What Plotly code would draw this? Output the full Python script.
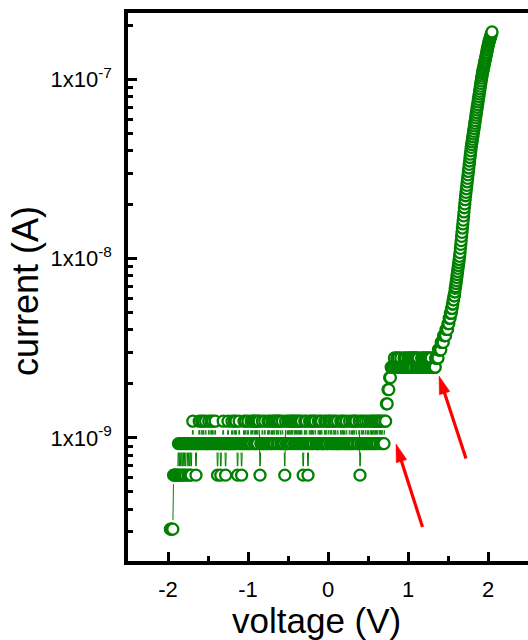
import numpy as np
import plotly.graph_objects as go

# ---------------------------------------------------------------------------
# I-V sweep data
# ---------------------------------------------------------------------------
# Low-bias part of the sweep: current sits on discrete levels that are
# multiples of the instrument resolution (0.31 nA). One digit per 10 mV step.
QUANTUM_NA = 0.31
FLAT_V_START = -1.97
FLAT_V_STEP = 0.01
FLAT_LEVELS = (
    "1111"                                   # -1.97 .. -1.94
    "2222223"                                # -1.93 .. -1.87
    "232323232332323"                        # -1.86 .. -1.72
    "2343332333" "4334343343" "3343343433"   # -1.71 .. -1.42
    "4332333233" "4332334333" "3"            # -1.41 .. -1.21
    "4334343234" "3323343433" "4333434434"   # -1.20 .. -0.91
    "3434423343" "3433343433" "4343443434"   # -0.90 .. -0.61
    "4334332433" "4343434434" "3434343432"   # -0.60 .. -0.31
    "3434323434" "3434433343" "4343334343"   # -0.30 .. -0.01
    "3443433434" "3343334343" "4334333433"   #  0.00 ..  0.29
    "4343443334" "2343433433" "4334343434"   #  0.30 ..  0.59
    "3434434343"                             #  0.60 ..  0.69
    "344556677"                              #  0.70 ..  0.78
    "8888988989" "8898889898" "8989898989"   #  0.79 ..  1.08
    "9898988898" "9898989898" "98888"        #  1.09 ..  1.33
)

# Turn-on part of the sweep, 5 mV steps, current in nA.
RISE_V_START = 1.335
RISE_V_STEP = 0.005
RISE_CURRENT_NA = [
    2.48, 2.48, 2.79, 2.79, 2.79, 2.79, 2.79, 2.79, 2.79, 3.10,
    3.10, 3.10, 3.10, 3.10, 3.10, 3.10, 3.41, 3.41, 3.41, 3.41,
    3.41, 3.41, 3.72, 3.72, 3.72, 3.72, 3.72, 3.72, 4.03, 4.03,
    4.03, 4.03, 4.03, 4.34, 4.34, 4.34, 4.65, 4.65, 4.65, 4.96,
    4.96, 4.96, 5.27, 5.27, 5.58, 5.58, 5.89, 5.89, 6.20, 6.20,
    6.51, 6.82, 6.98, 7.26, 7.54, 7.84, 8.15, 8.47, 8.82, 9.15,
    9.51, 9.88, 10.3, 10.8, 11.4, 12.0, 12.6, 13.3, 14.0, 14.8,
    15.6, 16.4, 17.3, 18.2, 19.2, 20.2, 21.3, 22.4, 23.4, 24.5,
    25.6, 26.8, 28.0, 29.3, 30.6, 32.0, 33.5, 35.0, 36.6, 38.2,
    39.9, 41.7, 43.2, 44.7, 46.2, 47.8, 49.5, 51.2, 53.0, 54.9,
    56.8, 58.8, 60.9, 63.0, 65.2, 67.5, 69.8, 72.2, 74.7, 77.3,
    80.0, 82.7, 85.6, 88.5, 91.6, 94.7, 98.0, 101.3, 104.4, 107.6,
    110.4, 113.2, 116.1, 119.0, 122.0, 125.1, 128.3, 131.5, 134.8, 138.2,
    141.7, 145.2, 148.8, 152.5, 156.2, 160.0, 162.8, 165.6, 168.5, 171.4,
    174.4, 177.4, 180.5, 183.6,
]

# Axis ticks
X_TICKS = [-2, -1, 0, 1, 2]
Y_TICKS = [1e-9, 1e-8, 1e-7]
Y_TICK_TEXT = ["1x10<sup>-9</sup>", "1x10<sup>-8</sup>", "1x10<sup>-7</sup>"]

# ---------------------------------------------------------------------------
# Build the series
# ---------------------------------------------------------------------------
flat_v = FLAT_V_START + FLAT_V_STEP * np.arange(len(FLAT_LEVELS))
flat_i = np.array([int(c) for c in FLAT_LEVELS]) * QUANTUM_NA * 1e-9
rise_v = RISE_V_START + RISE_V_STEP * np.arange(len(RISE_CURRENT_NA))
rise_i = np.array(RISE_CURRENT_NA) * 1e-9

voltage = np.round(np.concatenate([flat_v, rise_v]), 4)
current = np.concatenate([flat_i, rise_i])

# ---------------------------------------------------------------------------
# Geometry
# ---------------------------------------------------------------------------
W, H = 528, 640
M_L, M_R, M_T, M_B = 128, 0, 13, 79
X_RANGE = [-2.5, 2.5]
Y_RANGE_LOG = [np.log10(2.06e-10), np.log10(2.34e-7)]
plot_w = W - M_L - M_R
plot_h = H - M_T - M_B
px_per_v = plot_w / (X_RANGE[1] - X_RANGE[0])
px_per_dec = plot_h / (Y_RANGE_LOG[1] - Y_RANGE_LOG[0])

GREEN = "#008000"
FONT = "Liberation Sans, Arial, sans-serif"

# Connecting line, with a gap left around every symbol
GAP_PX = 9.0
log_i = np.log10(current)
seg_x, seg_y = [], []
for k in range(len(voltage) - 1):
    dv = voltage[k + 1] - voltage[k]
    dl = log_i[k + 1] - log_i[k]
    length = np.hypot(dv * px_per_v, dl * px_per_dec)
    if length <= 2 * GAP_PX:
        continue
    t = GAP_PX / length
    seg_x += [voltage[k] + t * dv, voltage[k + 1] - t * dv, None]
    seg_y += [10 ** (log_i[k] + t * dl), 10 ** (log_i[k + 1] - t * dl), None]

fig = go.Figure()
fig.add_trace(go.Scatter(
    x=seg_x, y=seg_y, mode="lines",
    line=dict(color=GREEN, width=1),
    hoverinfo="skip", showlegend=False,
))
fig.add_trace(go.Scatter(
    x=voltage, y=current, mode="markers",
    marker=dict(symbol="circle", size=11, color="white",
                line=dict(color=GREEN, width=2.3)),
    showlegend=False,
))

# ---------------------------------------------------------------------------
# Red arrows (tip / tail in pixels of the page)
# ---------------------------------------------------------------------------
ARROWS = [((396, 444), (422.5, 527)), ((439, 376), (466, 458.5))]
HEAD_LEN, HEAD_HALF_W, SHAFT_W = 18, 5.5, 3.2


def to_paper(px, py):
    return (px - M_L) / plot_w, (H - M_B - py) / plot_h


shapes = []
for (tx, ty), (sx, sy) in ARROWS:
    ux, uy = tx - sx, ty - sy
    n = np.hypot(ux, uy)
    ux, uy = ux / n, uy / n
    bx, by = tx - HEAD_LEN * ux, ty - HEAD_LEN * uy
    px_, py_ = -uy, ux
    p_tail = to_paper(sx, sy)
    p_base = to_paper(bx + 2 * ux, by + 2 * uy)
    shapes.append(dict(type="line", xref="paper", yref="paper",
                       x0=p_tail[0], y0=p_tail[1], x1=p_base[0], y1=p_base[1],
                       line=dict(color="#ff0000", width=SHAFT_W)))
    a = to_paper(tx, ty)
    b = to_paper(bx + HEAD_HALF_W * px_, by + HEAD_HALF_W * py_)
    c = to_paper(bx - HEAD_HALF_W * px_, by - HEAD_HALF_W * py_)
    shapes.append(dict(type="path", xref="paper", yref="paper",
                       path=f"M{a[0]},{a[1]} L{b[0]},{b[1]} L{c[0]},{c[1]} Z",
                       fillcolor="#ff0000", line=dict(color="#ff0000", width=0.5)))

# Axis titles placed as annotations (page pixel centres)
x_title_pos = to_paper(316, 620)
y_title_pos = to_paper(25, 291)
annotations = [
    dict(text="voltage (V)", xref="paper", yref="paper",
         x=x_title_pos[0], y=x_title_pos[1], xanchor="center", yanchor="middle",
         showarrow=False, font=dict(size=35, family=FONT, color="black")),
    dict(text="current (A)", xref="paper", yref="paper", textangle=-90,
         x=y_title_pos[0], y=y_title_pos[1], xanchor="center", yanchor="middle",
         showarrow=False, font=dict(size=36, family=FONT, color="black")),
]

minor_y = [m * 10.0 ** e for e in range(-10, -6) for m in range(2, 10)]

fig.update_layout(
    width=W, height=H,
    margin=dict(l=M_L, r=M_R, t=M_T, b=M_B, pad=0),
    paper_bgcolor="white", plot_bgcolor="white",
    font=dict(family=FONT, color="black"),
    shapes=shapes,
    annotations=annotations,
    xaxis=dict(
        range=X_RANGE, tickmode="array", tickvals=X_TICKS,
        ticktext=[str(t) for t in X_TICKS],
        ticks="inside", ticklen=9, tickwidth=3, tickcolor="black",
        minor=dict(ticks="inside", ticklen=5, tickwidth=2.5, tickcolor="black",
                   tickvals=[-1.5, -0.5, 0.5, 1.5]),
        showline=True, linewidth=3.5, linecolor="black", mirror=True,
        showgrid=False, zeroline=False,
        tickfont=dict(size=22, family=FONT),
        ticklabelstandoff=6,
    ),
    yaxis=dict(
        type="log", range=Y_RANGE_LOG, tickmode="array",
        tickvals=Y_TICKS, ticktext=Y_TICK_TEXT,
        ticks="inside", ticklen=9, tickwidth=3, tickcolor="black",
        minor=dict(ticks="inside", ticklen=5, tickwidth=2.5, tickcolor="black",
                   tickvals=minor_y),
        showline=True, linewidth=3.5, linecolor="black", mirror=False,
        showgrid=False, zeroline=False,
        tickfont=dict(size=22, family=FONT),
        ticklabelstandoff=8,
    ),
)

fig.write_html("out.html")
